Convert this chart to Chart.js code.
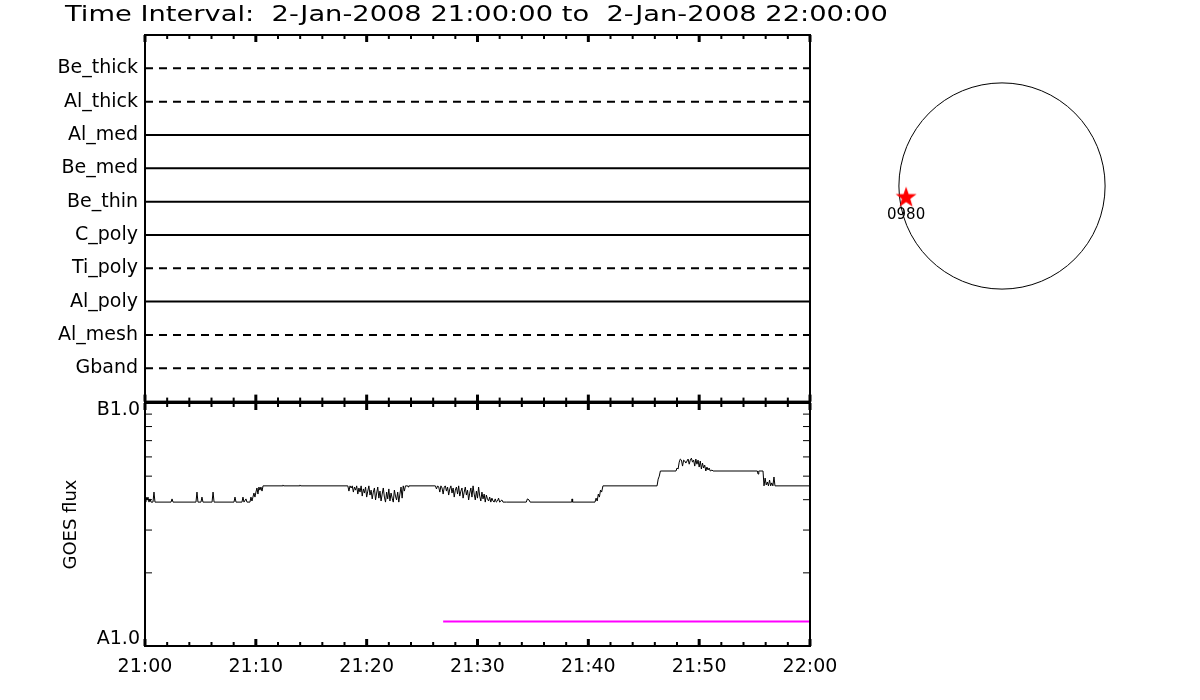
<!DOCTYPE html>
<html>
<head>
<meta charset="utf-8">
<title>GOES flux 2-Jan-2008</title>
<script src="https://cdn.jsdelivr.net/npm/chart.js@4.4.1/dist/chart.umd.min.js"></script>
<style>
  html, body { margin: 0; padding: 0; background: #fff; }
  #wrap { position: relative; width: 1200px; height: 700px; overflow: hidden; background: #fff; }
  canvas { position: absolute; }
  #filters { left: 0; top: 0; }
  #goes { left: 0; top: 384px; }
  #sun { left: 852px; top: 36px; }
</style>
</head>
<body>
<div id="wrap">
  <canvas id="filters" width="1200" height="420"></canvas>
  <canvas id="goes" width="860" height="316"></canvas>
  <canvas id="sun" width="300" height="300"></canvas>
</div>
<script>
const titleText = 'Time Interval:  2-Jan-2008 21:00:00 to  2-Jan-2008 22:00:00';

// filter wheel states, listed top to bottom
const filterNames = ['Be_thick', 'Al_thick', 'Al_med', 'Be_med', 'Be_thin', 'C_poly', 'Ti_poly', 'Al_poly', 'Al_mesh', 'Gband'];
const filterDashed = [true, true, false, false, false, false, true, false, true, true];

// time axis, minutes after 21:00
const timeLabels = ['21:00', '21:10', '21:20', '21:30', '21:40', '21:50', '22:00'];
const fluxTicks = [1, 2, 3, 4, 5, 6, 7, 8, 9, 10];
const fluxLabels = ['A1.0', 'B1.0'];

// GOES 1-8 A flux, in units of 1e-8 W/m^2 (A1.0 = 1)
const goesTime = [
  0.00, 0.09, 0.18, 0.27, 0.36, 0.45, 0.54, 0.72, 0.81, 0.90,
  2.35, 2.44, 2.53, 4.60, 4.69, 4.78, 5.05, 5.14, 5.23, 6.05, 6.14, 6.23,
  8.03, 8.12, 8.21, 8.75, 8.84, 8.93, 9.11, 9.20,
  9.47, 9.56, 9.65, 9.74, 9.83, 9.92, 10.01, 10.10, 10.19, 10.28, 10.37, 10.46, 10.56, 10.65,
  12.40, 12.45, 12.50, 13.93, 13.98, 14.03,
  18.30, 18.40, 18.50, 18.60, 18.70, 18.80, 18.90, 19.00, 19.10, 19.20, 19.30, 19.40, 19.50, 19.60, 19.70, 19.80, 19.90, 20.00, 20.10, 20.20,
  20.30, 20.40, 20.50, 20.60, 20.70, 20.80, 20.90, 21.00, 21.10, 21.20, 21.30, 21.40, 21.50, 21.60, 21.70, 21.80, 21.90, 22.00, 22.10, 22.20,
  22.30, 22.40, 22.50, 22.60, 22.70, 22.80, 22.90, 23.00, 23.10, 23.20, 23.30, 23.40, 23.50,
  23.70, 23.75, 23.80,
  26.20, 26.30, 26.40, 26.50, 26.60, 26.70, 26.80, 26.90, 27.00, 27.10, 27.20, 27.30, 27.40, 27.50, 27.60, 27.70, 27.80, 27.90, 28.00, 28.10,
  28.20, 28.30, 28.40, 28.50, 28.60, 28.70, 28.80, 28.90, 29.00, 29.10, 29.20, 29.30, 29.40, 29.50, 29.60, 29.70, 29.80, 29.90, 30.00, 30.10,
  30.20, 30.30, 30.40, 30.50, 30.60, 30.70, 30.80, 30.90, 31.00, 31.10, 31.20, 31.30, 31.40, 31.50, 31.60, 31.70, 31.80, 31.90, 32.00, 32.20,
  32.30, 32.60, 34.40, 34.50, 34.65, 34.75, 38.50, 38.53, 38.58,
  40.60, 40.70, 40.80, 40.90, 41.00, 41.10, 41.20, 41.32,
  46.20, 46.30, 46.40, 46.50,
  47.91, 48.00, 48.10, 48.20, 48.30, 48.40, 48.50, 48.60, 48.70, 48.80, 48.90, 49.00, 49.10, 49.20, 49.30, 49.40, 49.50, 49.60,
  49.70, 49.80, 49.90, 50.00, 50.10, 50.20, 50.30, 50.40, 50.50, 50.60, 50.70, 50.80, 50.90, 51.00, 51.16, 51.25,
  55.25, 55.31, 55.38,
  55.76, 55.85, 55.95, 56.05, 56.15, 56.25, 56.35, 56.45, 56.55, 56.65, 56.75, 56.84, 60.00
];
const goesFlux = [
  3.91, 4.10, 3.99, 4.10, 3.91, 4.03, 3.91, 3.91, 4.30, 3.91,
  3.91, 4.03, 3.91, 3.91, 4.30, 3.91, 3.91, 4.10, 3.91, 3.91, 4.30, 3.91,
  3.91, 4.10, 3.91, 3.91, 4.10, 3.91, 4.03, 3.91,
  3.91, 4.10, 3.95, 4.10, 4.26, 4.10, 4.30, 4.47, 4.22, 4.51, 4.38, 4.51, 4.34, 4.56,
  4.56, 4.60, 4.56, 4.56, 4.60, 4.56,
  4.56, 4.34, 4.56, 4.47, 4.56, 4.30, 4.51, 4.38, 4.56, 4.22, 4.47, 4.30, 4.56, 4.14, 4.43, 4.26, 4.51, 4.10, 4.34, 4.56,
  4.18, 4.38, 4.03, 4.30, 4.47, 3.99, 4.26, 4.51, 4.06, 4.34, 3.95, 4.22, 4.47, 4.10, 3.91, 4.30, 4.03, 4.43, 3.95, 4.26,
  4.06, 3.91, 4.38, 4.14, 3.99, 4.30, 3.91, 4.22, 4.51, 4.06, 4.56, 4.34, 4.56,
  4.56, 4.51, 4.56,
  4.56, 4.43, 4.56, 4.51, 4.30, 4.56, 4.47, 4.22, 4.51, 4.56, 4.34, 4.51, 4.18, 4.43, 4.56, 4.26, 4.47, 4.10, 4.38, 4.51,
  4.22, 4.56, 4.14, 4.34, 4.47, 4.06, 4.30, 4.51, 4.18, 4.38, 3.99, 4.26, 4.47, 4.10, 4.56, 4.22, 3.99, 4.34, 4.06, 4.51,
  4.14, 3.95, 4.30, 4.03, 4.22, 3.91, 4.18, 4.03, 3.95, 4.10, 3.91, 4.06, 3.95, 3.91, 4.03, 3.91, 3.95, 4.06, 3.91, 3.99,
  3.91, 3.91, 3.91, 4.03, 3.99, 3.91, 3.91, 4.03, 3.91,
  3.91, 4.06, 3.95, 4.22, 4.10, 4.38, 4.30, 4.56,
  4.56, 4.86, 5.00, 5.25,
  5.25, 5.40, 5.35, 5.71, 5.88, 5.82, 5.50, 5.82, 5.77, 5.66, 5.77, 5.88, 5.60, 5.82, 5.93, 5.71, 5.82, 5.50,
  5.88, 5.60, 5.82, 5.45, 5.77, 5.35, 5.66, 5.40, 5.55, 5.25, 5.45, 5.30, 5.40, 5.25, 5.30, 5.25,
  5.25, 5.10, 5.25,
  5.25, 4.56, 4.91, 4.60, 4.73, 4.56, 4.82, 4.56, 4.69, 4.56, 4.96, 4.56, 4.56
];

// magenta marker line
const markerTime = [26.9, 60];
const markerFlux = [1.26, 1.26];

// solar disk, arcsec
const sunRadius = 976;
const regionNames = ['0980'];
const regionX = [-908];
const regionY = [-100];

Chart.defaults.font.family = '"DejaVu Sans", sans-serif';
Chart.defaults.color = '#000';

const isMajor = v => Math.round(v) % 10 === 0;

// frame + inward tick marks drawn at the scale's tick positions
function frameTicks(marks) {
  return {
    id: 'frameTicks',
    afterDraw(chart) {
      const ctx = chart.ctx, a = chart.chartArea;
      ctx.save();
      ctx.strokeStyle = '#000';
      marks.forEach(m => {
        const scale = chart.scales[m.scale];
        scale.ticks.forEach(t => {
          const v = t.value;
          if (m.skipEnds && (v <= scale.min || v >= scale.max)) return;
          const big = m.major ? m.major(v) : false;
          const len = m.len ? m.len : (big ? 7 : 4);
          ctx.lineWidth = m.width ? m.width : (big ? 3 : 2);
          const p = scale.getPixelForValue(v);
          ctx.beginPath();
          if (m.edge === 'top') { ctx.moveTo(p, a.top); ctx.lineTo(p, a.top + len); }
          if (m.edge === 'bottom') { ctx.moveTo(p, a.bottom); ctx.lineTo(p, a.bottom - len); }
          if (m.edge === 'left') { ctx.moveTo(a.left, p); ctx.lineTo(a.left + len, p); }
          if (m.edge === 'right') { ctx.moveTo(a.right, p); ctx.lineTo(a.right - len, p); }
          ctx.stroke();
        });
      });
      ctx.lineWidth = 2;
      ctx.strokeRect(a.left, a.top, a.right - a.left, a.bottom - a.top);
      ctx.restore();
    }
  };
}

const titlePlugin = {
  id: 'timeTitle',
  afterDraw(chart) {
    const ctx = chart.ctx;
    ctx.save();
    ctx.font = '21px "DejaVu Sans"';
    ctx.fillStyle = '#000';
    ctx.textBaseline = 'alphabetic';
    ctx.translate(65, 21);
    ctx.scale(1.3, 1);
    ctx.fillText(titleText, 0, 0);
    ctx.restore();
  }
};

// top panel: filter states
new Chart(document.getElementById('filters'), {
  type: 'line',
  data: {
    datasets: filterNames.map((name, i) => ({
      label: name,
      data: [{ x: 0, y: filterNames.length - i }, { x: 60, y: filterNames.length - i }],
      borderColor: '#000',
      borderWidth: 2,
      borderDash: filterDashed[i] ? [8, 6] : [],
      pointRadius: 0
    }))
  },
  options: {
    responsive: false,
    animation: false,
    devicePixelRatio: 1,
    events: [],
    layout: { padding: { right: 390, bottom: 17 }, autoPadding: false },
    plugins: { legend: { display: false }, tooltip: { enabled: false } },
    scales: {
      x: {
        type: 'linear', position: 'top', min: 0, max: 60,
        ticks: { display: false, stepSize: 2 },
        grid: { display: false, drawTicks: false }, border: { display: false },
        afterFit: s => { s.height = 35; }
      },
      y: {
        type: 'linear', min: 0, max: filterNames.length + 1,
        afterBuildTicks: s => { s.ticks = filterNames.map((n, i) => ({ value: filterNames.length - i })); },
        ticks: { autoSkip: false, padding: 7, font: { size: 19 }, callback: v => filterNames[filterNames.length - v] },
        grid: { display: false, drawTicks: false }, border: { display: false },
        afterFit: s => { s.width = 145; }
      }
    }
  },
  plugins: [frameTicks([
    { scale: 'x', edge: 'top', major: isMajor },
    { scale: 'x', edge: 'bottom', major: isMajor }
  ]), titlePlugin]
});

// bottom panel: GOES flux
new Chart(document.getElementById('goes'), {
  type: 'line',
  data: {
    datasets: [{
      label: 'GOES flux',
      data: goesTime.map((t, i) => ({ x: t, y: goesFlux[i] })),
      borderColor: '#000',
      borderWidth: 1,
      pointRadius: 0
    }, {
      label: 'marker',
      data: markerTime.map((t, i) => ({ x: t, y: markerFlux[i] })),
      borderColor: '#ff00ff',
      borderWidth: 2,
      pointRadius: 0
    }]
  },
  options: {
    responsive: false,
    animation: false,
    devicePixelRatio: 1,
    events: [],
    layout: { padding: { top: 0, right: 50 }, autoPadding: false },
    plugins: { legend: { display: false }, tooltip: { enabled: false } },
    scales: {
      x: {
        type: 'linear', min: 0, max: 60,
        ticks: {
          stepSize: 2, autoSkip: false, maxRotation: 0, padding: 10, font: { size: 19 },
          callback: v => isMajor(v) ? timeLabels[Math.round(v) / 10] : ''
        },
        grid: { display: false, drawTicks: false }, border: { display: false },
        afterFit: s => { s.height = 54; }
      },
      y: {
        type: 'logarithmic', min: 1, max: 10,
        afterBuildTicks: s => { s.ticks = fluxTicks.map(v => ({ value: v })); },
        ticks: {
          autoSkip: false, padding: 5, font: { size: 19, lineHeight: '14px' },
          // end labels sit just inside the frame, as in the original plot
          callback: v => v === fluxTicks[0] ? [fluxLabels[0], ''] : (v === fluxTicks[fluxTicks.length - 1] ? ['', fluxLabels[1]] : '')
        },
        title: { display: true, text: 'GOES flux', font: { size: 18 }, padding: { top: 61, bottom: 0 } },
        grid: { display: false, drawTicks: false }, border: { display: false },
        afterFit: s => { s.width = 145; }
      }
    }
  },
  plugins: [frameTicks([
    { scale: 'x', edge: 'top', major: isMajor },
    { scale: 'x', edge: 'bottom', major: isMajor },
    { scale: 'y', edge: 'left', skipEnds: true, len: 7, width: 1 },
    { scale: 'y', edge: 'right', skipEnds: true, len: 7, width: 1 }
  ])]
});

// solar disk with active region marker
const starImg = (() => {
  const c = document.createElement('canvas');
  c.width = 22; c.height = 22;
  const g = c.getContext('2d');
  g.fillStyle = '#ff0000';
  g.beginPath();
  for (let k = 0; k < 10; k++) {
    const r = k % 2 ? 4.4 : 11;
    const ang = -Math.PI / 2 + k * Math.PI / 5;
    g.lineTo(11 + r * Math.cos(ang), 12 + r * Math.sin(ang));
  }
  g.closePath();
  g.fill();
  return c;
})();

const limbPlugin = {
  id: 'limb',
  beforeDatasetsDraw(chart) {
    const { ctx, scales: { x, y } } = chart;
    const cx = x.getPixelForValue(0), cy = y.getPixelForValue(0);
    const r = x.getPixelForValue(sunRadius) - cx;
    ctx.save();
    ctx.strokeStyle = '#000';
    ctx.lineWidth = 1;
    ctx.beginPath();
    ctx.arc(cx, cy, r, 0, 2 * Math.PI);
    ctx.stroke();
    ctx.restore();
  },
  afterDatasetsDraw(chart) {
    const ctx = chart.ctx;
    ctx.save();
    ctx.font = '15px "DejaVu Sans"';
    ctx.fillStyle = '#000';
    ctx.textAlign = 'center';
    ctx.textBaseline = 'middle';
    chart.getDatasetMeta(0).data.forEach((pt, i) => ctx.fillText(regionNames[i], pt.x, pt.y + 19));
    ctx.restore();
  }
};

new Chart(document.getElementById('sun'), {
  type: 'scatter',
  data: {
    datasets: [{
      label: 'regions',
      data: regionX.map((x, i) => ({ x: x, y: regionY[i] })),
      pointStyle: starImg,
      pointRadius: 11
    }]
  },
  options: {
    responsive: false,
    animation: false,
    devicePixelRatio: 1,
    events: [],
    layout: { padding: 0, autoPadding: false },
    plugins: { legend: { display: false }, tooltip: { enabled: false } },
    scales: {
      x: { type: 'linear', display: false, min: -1420, max: 1420 },
      y: { type: 'linear', display: false, min: -1420, max: 1420 }
    }
  },
  plugins: [limbPlugin]
});
</script>
</body>
</html>
